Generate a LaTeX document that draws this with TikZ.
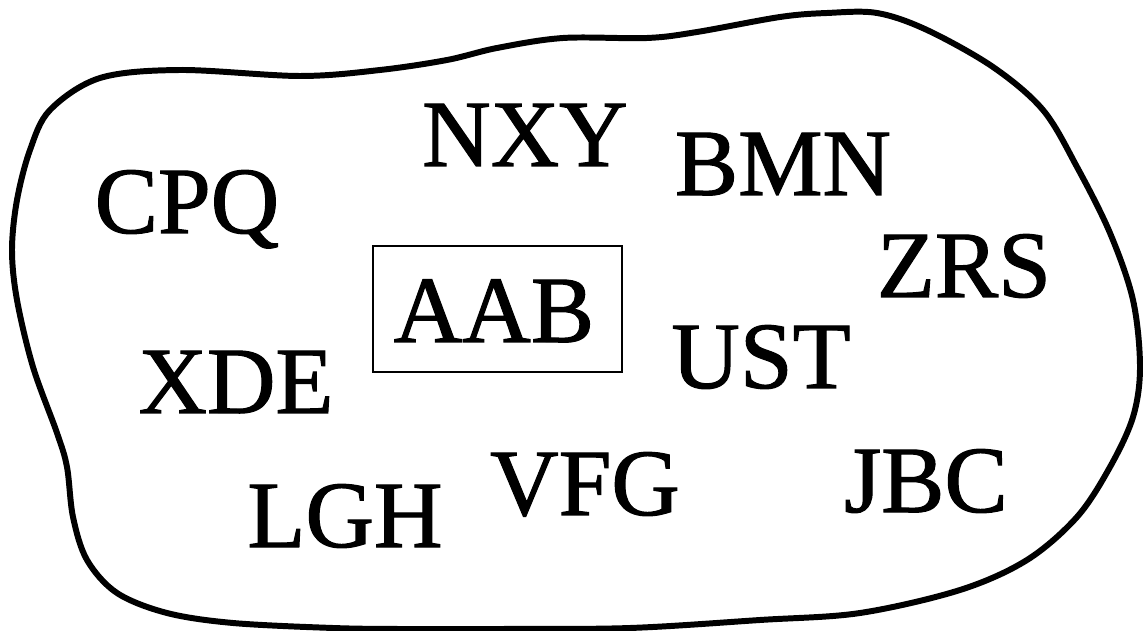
\documentclass[tikz,border=0pt]{standalone}
\usepackage{fontspec}
\newfontfamily\tnr[FakeBold=1.2]{Liberation Serif}
\begin{document}
\begin{tikzpicture}[x=0.02cm,y=-0.02cm,
  lbl/.style={font=\tnr\fontsize{54}{60}\selectfont, inner sep=0pt, anchor=base},
  blob/.style={line width=3.4pt, line join=round}]
\useasboundingbox (0,0) rectangle (1143,631);
\draw[blob] plot[smooth cycle, tension=0.55] coordinates {
 (100,78) (180,70) (300,76) (380,70) (447,60) (497,48) (563,38) (647,38)
 (697,32) (780,17) (827,13) (877,13) (927,30) (993,67) (1043,110) (1077,167)
 (1110,233) (1133,300) (1140,367) (1133,417) (1110,467) (1077,517) (1027,560)
 (960,590) (860,613) (760,620) (630,628) (500,629) (400,629) (333,628) (233,623)
 (167,613) (117,593) (87,560) (73,517) (67,467) (57,433) (33,367) (17,300)
 (12,250) (17,200) (30,150) (50,110)};
\node[draw, line width=0.8pt, minimum width=4.98cm, minimum height=2.52cm, inner sep=0pt] (box) at (497.5,309) {};
\node[lbl] (aab) at (494,342) {AAB};
\node[lbl] (nxy) at (525,166) {NXY};
\node[lbl] (bmn) at (783,195) {BMN};
\node[lbl] (cpq) at (187,233) {CPQ};
\node[lbl] (zrs) at (964,297) {ZRS};
\node[lbl] (ust) at (761,388) {UST};
\node[lbl] (xde) at (236,413) {XDE};
\node[lbl] (lgh) at (345,547) {LGH};
\node[lbl] (vfg) at (585,515) {VFG};
\node[lbl] (jbc) at (926,512) {JBC};
\end{tikzpicture}
\end{document}
